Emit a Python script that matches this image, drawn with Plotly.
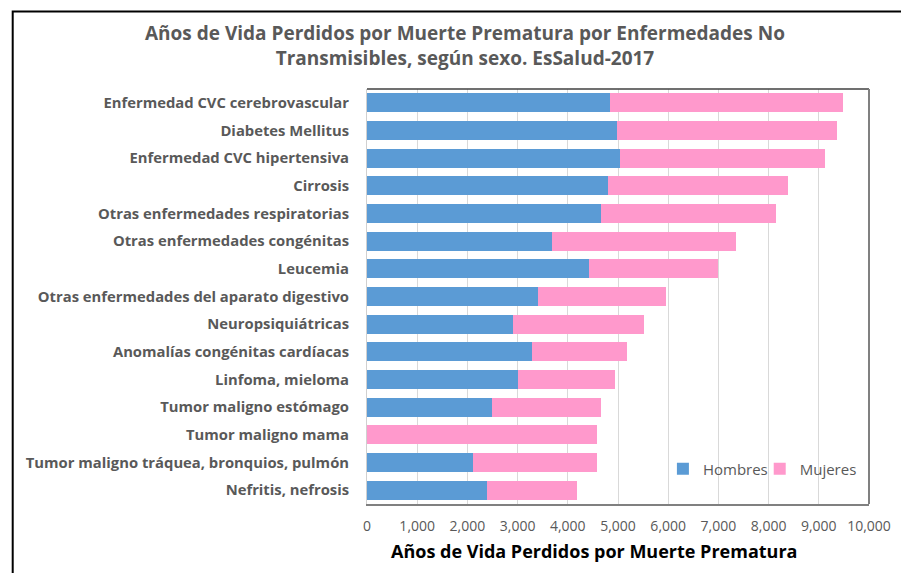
import plotly.graph_objects as go

categories = [
    "Enfermedad CVC cerebrovascular",
    "Diabetes Mellitus",
    "Enfermedad CVC hipertensiva",
    "Cirrosis",
    "Otras enfermedades respiratorias",
    "Otras enfermedades congénitas",
    "Leucemia",
    "Otras enfermedades del aparato digestivo",
    "Neuropsiquiátricas",
    "Anomalías congénitas cardíacas",
    "Linfoma, mieloma",
    "Tumor maligno estómago",
    "Tumor maligno mama",
    "Tumor maligno tráquea, bronquios, pulmón",
    "Nefritis, nefrosis",
]
hombres = [4840, 4975, 5045, 4800, 4670, 3690, 4425, 3400, 2910, 3290, 3000, 2495, 0, 2115, 2385]
mujeres = [4650, 4380, 4085, 3585, 3470, 3660, 2570, 2555, 2605, 1890, 1935, 2175, 4590, 2460, 1795]
x_ticks = list(range(0, 10001, 1000))
x_ticklabels = [f"{v:,}" for v in x_ticks]
title_text = ("Años de Vida Perdidos por Muerte Prematura por Enfermedades No<br>"
              "Transmisibles, según sexo. EsSalud-2017")
x_title = "Años de Vida Perdidos por Muerte Prematura"

FONT = "Open Sans"
GRAY = "#595959"

L, R, T, B = 366.5, 31.5, 89, 69
W, H = 901, 573
pw = W - L - R
ph = H - T - B


def px_x(p):
    return (p - L) / pw


def px_y(p):
    return (H - B - p) / ph


fig = go.Figure()
fig.add_trace(go.Bar(y=categories, x=hombres, name="Hombres", orientation="h",
                     marker=dict(color="#5b9bd5", line=dict(width=0)), legend="legend"))
fig.add_trace(go.Bar(y=categories, x=mujeres, name="Mujeres", orientation="h",
                     marker=dict(color="#ff99cc", line=dict(width=0)), legend="legend2"))

legend_common = dict(orientation="h", xanchor="left", yanchor="middle",
                     font=dict(family=FONT, size=15, color=GRAY),
                     bgcolor="rgba(0,0,0,0)", itemwidth=30)

fig.update_layout(
    width=W, height=H,
    barmode="stack",
    bargap=0.31,
    plot_bgcolor="white", paper_bgcolor="white",
    margin=dict(l=L, r=R, t=T, b=B, autoexpand=False),
    font=dict(family=FONT, color=GRAY, size=14),
    legend=dict(x=px_x(663), y=px_y(469), **legend_common),
    legend2=dict(x=px_x(760), y=px_y(469), **legend_common),
    showlegend=True,
)
fig.add_annotation(text=title_text, xref="paper", yref="paper",
                   x=px_x(465), y=px_y(46), xanchor="center", yanchor="middle",
                   showarrow=False, align="center",
                   font=dict(family=FONT, size=19, color=GRAY, weight="bold"))
fig.add_annotation(text=x_title, xref="paper", yref="paper",
                   x=px_x(594), y=px_y(551), xanchor="center", yanchor="middle",
                   showarrow=False,
                   font=dict(family=FONT, size=18, color="black", weight="bold"))

fig.update_xaxes(
    range=[0, 10000], tickvals=x_ticks, ticktext=x_ticklabels,
    showgrid=True, gridcolor="#d9d9d9", gridwidth=1,
    zeroline=False, showline=True, linecolor="#808080", linewidth=2,
    ticks="outside", ticklen=8, tickcolor="rgba(0,0,0,0)",
    tickfont=dict(family=FONT, size=14, color=GRAY),
    automargin=False,
)
fig.update_yaxes(
    categoryorder="array", categoryarray=categories, autorange="reversed",
    showgrid=False, showline=True, linecolor="#d0d0d0", linewidth=1,
    ticks="outside", ticklen=14, tickcolor="rgba(0,0,0,0)",
    tickfont=dict(family=FONT, size=14.8, color=GRAY, weight="bold"),
    automargin=False,
)
# top (dark) and right (gray) edges of the plot area
fig.add_shape(type="line", xref="paper", yref="paper", x0=0, x1=1, y0=1, y1=1,
              line=dict(color="#404040", width=1.5), layer="above")
fig.add_shape(type="line", xref="paper", yref="paper", x0=1, x1=1, y0=0, y1=1,
              line=dict(color="#808080", width=2), layer="above")
# outer chart border (black)
fig.add_shape(type="rect", xref="paper", yref="paper",
              x0=px_x(11.5), x1=px_x(W + 20),
              y0=px_y(H + 20), y1=px_y(11.5),
              line=dict(color="black", width=2), layer="above")

fig.write_html("out.html", config={"displayModeBar": False},
               post_script="document.body.style.margin='0px';")
